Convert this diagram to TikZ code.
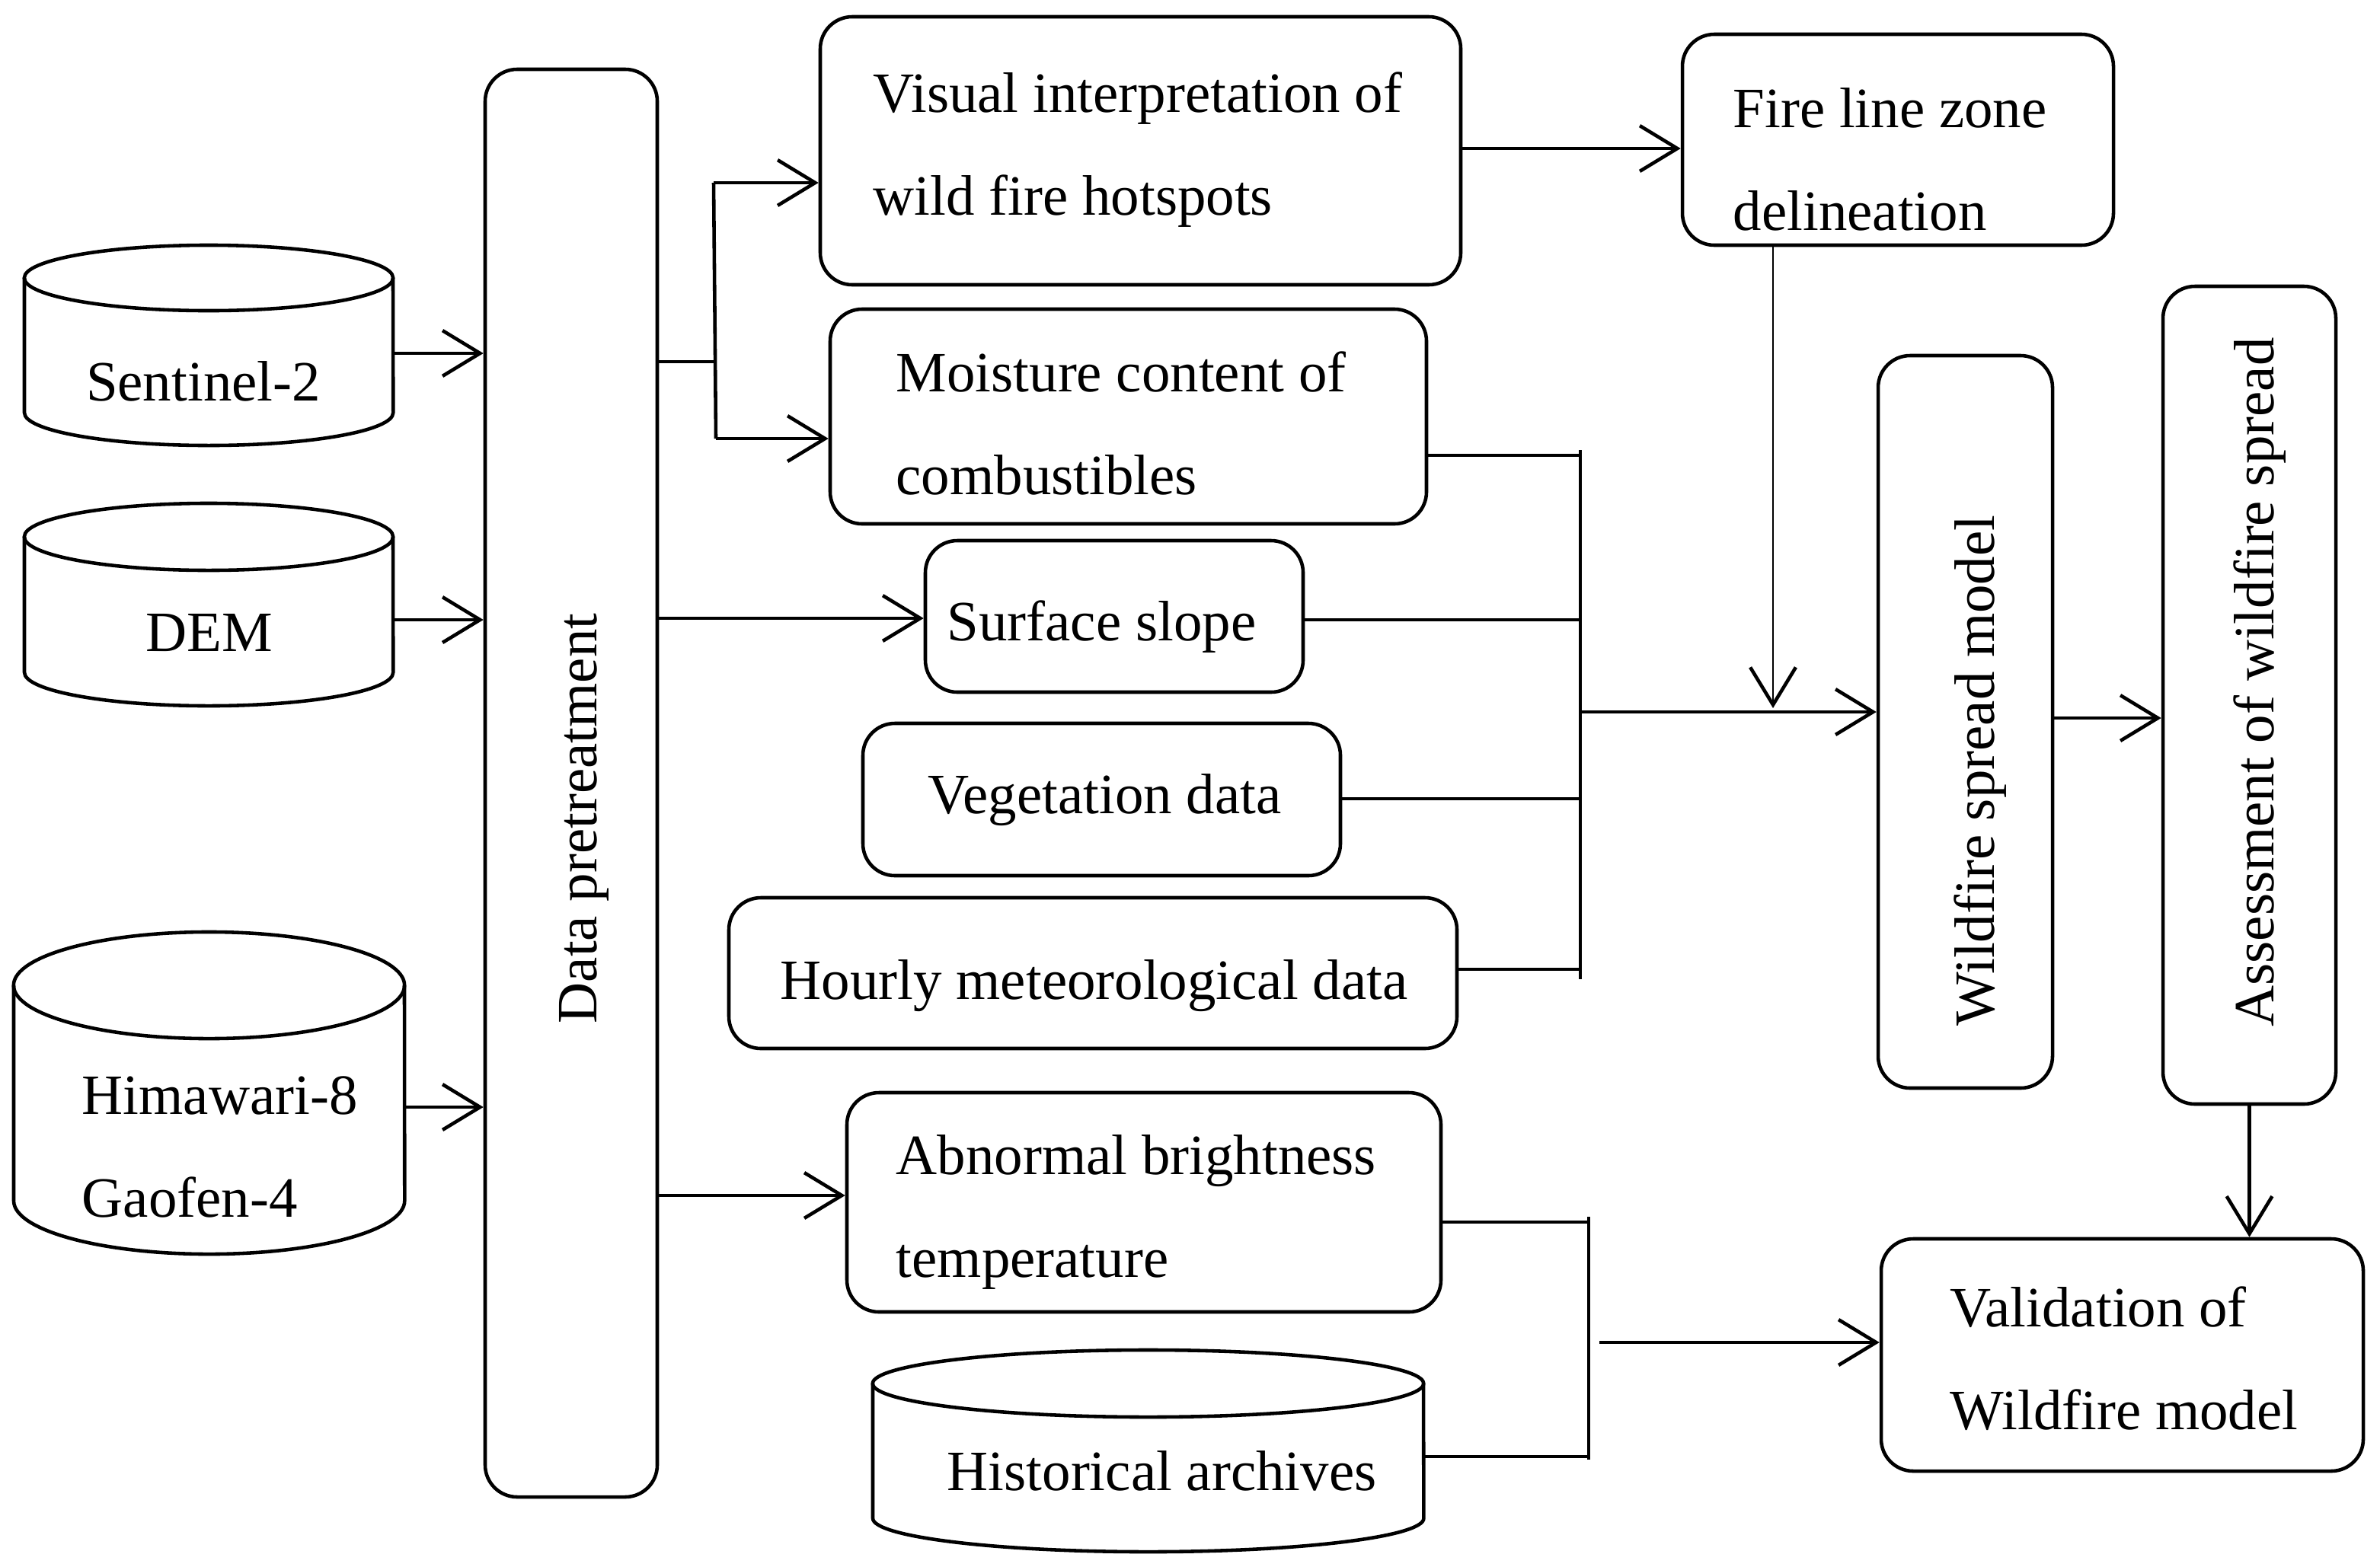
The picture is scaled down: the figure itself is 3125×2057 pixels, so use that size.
\documentclass[tikz,border=0pt]{standalone}
\usepackage{fontspec}
\setmainfont{Liberation Serif}
\usetikzlibrary{arrows.meta,fit}
\begin{document}
\begin{tikzpicture}[x=0.01cm,y=-0.01cm,
  ln/.style={line width=1.3pt},
  box/.style={draw, line width=1.3pt, rounded corners=0.42cm, inner sep=0pt},
  area/.style={inner sep=0pt},
  txt/.style={inner sep=0pt, align=left, font=\fontsize{21.3pt}{38.4pt}\selectfont},
  arr/.style={line width=1.3pt, -{Straight Barb[length=14pt,width=17pt]}},
  thinarr/.style={line width=0.6pt, -{Straight Barb[length=14pt,width=17pt,line width=1.3pt]}}]
\fill[white] (0,0) rectangle (3125,2057);
\useasboundingbox (0,0) rectangle (3125,2057);

% ---------- cylinders ----------
% Sentinel-2
\draw[ln] (274,365) ellipse [x radius=2.42cm, y radius=0.43cm];
\draw[ln] (32,365) -- (32,542) arc[start angle=180, end angle=360, x radius=2.42cm, y radius=0.43cm] -- (516,365);
\node[area, fit={(32,322) (516,585)}] (sen) {};
\node[txt] (senT) at (267,501) {Sentinel-2};
% DEM
\draw[ln] (274,705) ellipse [x radius=2.42cm, y radius=0.44cm];
\draw[ln] (32,705) -- (32,883) arc[start angle=180, end angle=360, x radius=2.42cm, y radius=0.44cm] -- (516,705);
\node[area, fit={(32,661) (516,927)}] (dem) {};
\node[txt] (demT) at (275,831) {DEM};
% Himawari / Gaofen
\draw[ln] (274.5,1294) ellipse [x radius=2.565cm, y radius=0.7cm];
\draw[ln] (18,1294) -- (18,1577) arc[start angle=180, end angle=360, x radius=2.565cm, y radius=0.7cm] -- (531,1294);
\node[area, fit={(18,1224) (531,1647)}] (him) {};
\node[txt, anchor=west] (himT) at (107,1506) {Himawari-8\\Gaofen-4};
% Historical archives
\draw[ln] (1507.5,1817) ellipse [x radius=3.615cm, y radius=0.44cm];
\draw[ln] (1146,1817) -- (1146,1994) arc[start angle=180, end angle=360, x radius=3.615cm, y radius=0.44cm] -- (1869,1817);
\node[area, fit={(1146,1773) (1869,2038)}] (hist) {};
\node[txt, anchor=west] (histT) at (1243,1932) {Historical archives};

% ---------- boxes ----------
\node[box, fit={(637,91) (863,1966)}] (pre) {};
\node[txt, rotate=90] (preT) at (767,1075) {Data pretreatment};

\node[box, fit={(1077,22) (1918,374)}] (vis) {};
\node[txt, anchor=west] (visT) at (1146,197) {Visual interpretation of\\wild fire hotspots};

\node[box, fit={(1090,406) (1873,688)}] (moi) {};
\node[txt, anchor=west] (moiT) at (1176,556) {Moisture content of\\combustibles};

\node[box, fit={(1215,710) (1711,909)}] (surf) {};
\node[txt, anchor=west] (surfT) at (1243,823) {Surface slope};

\node[box, fit={(1133,950) (1760,1150)}] (veg) {};
\node[txt, anchor=west] (vegT) at (1218,1051) {Vegetation data};

\node[box, fit={(957,1179) (1913,1377)}] (hour) {};
\node[txt, anchor=west] (hourT) at (1024,1295) {Hourly meteorological data};

\node[box, fit={(1112,1435) (1892,1723)}] (abn) {};
\node[txt, anchor=west] (abnT) at (1176,1592) {Abnormal brightness\\temperature};

\node[box, fit={(2209,45) (2775,322)}] (fire) {};
\node[txt, anchor=west] (fireT) at (2275,209) {Fire line zone\\delineation};

\node[box, fit={(2466,467) (2695,1429)}] (wsm) {};
\node[txt, rotate=90] (wsmT) at (2600,1012) {Wildfire spread model};

\node[box, fit={(2840,376) (3067,1450)}] (ass) {};
\node[txt, rotate=90] (assT) at (2967,896) {Assessment of wildfire spread};

\node[box, fit={(2470,1627) (3103,1932)}] (val) {};
\node[txt, anchor=west] (valT) at (2560,1784) {Validation of\\Wildfire model};

% ---------- connectors ----------
\coordinate (a1) at (600,464);
\coordinate (a2) at (600,814);
\coordinate (a3) at (600,1454);
\draw[arr] (sen.east |- a1) -- (pre.west |- a1);
\draw[arr] (dem.east |- a2) -- (pre.west |- a2);
\draw[arr] (him.east |- a3) -- (pre.west |- a3);

\coordinate (b0) at (938,475);
\coordinate (b1) at (937,240);
\coordinate (b2) at (940,576);
\draw[ln] (pre.east |- b0) -- (b0);
\draw[ln] (b1) -- (b2);
\draw[arr] (b1) -- (vis.west |- b1);
\draw[arr] (b2) -- (moi.west |- b2);

\coordinate (s1) at (1000,812);
\draw[arr] (pre.east |- s1) -- (surf.west |- s1);
\coordinate (ab1) at (1000,1570);
\draw[arr] (pre.east |- ab1) -- (abn.west |- ab1);

\coordinate (f1) at (2000,195);
\draw[arr] (vis.east |- f1) -- (fire.west |- f1);
\coordinate (fd) at (2328,930);
\draw[thinarr] (fire.south -| fd) -- (fd);

% collector 1
\coordinate (c1t) at (2075,591);
\coordinate (c1b) at (2075,1286);
\coordinate (c1a) at (2075,598);
\coordinate (c1s) at (2075,814);
\coordinate (c1v) at (2075,1049);
\coordinate (c1h) at (2075,1273);
\coordinate (c1m) at (2075,935);
\draw[ln] (c1t) -- (c1b);
\draw[ln] (moi.east |- c1a) -- (c1a);
\draw[ln] (surf.east |- c1s) -- (c1s);
\draw[ln] (veg.east |- c1v) -- (c1v);
\draw[ln] (hour.east |- c1h) -- (c1h);
\draw[arr] (c1m) -- (wsm.west |- c1m);

\coordinate (w1) at (2750,943);
\draw[arr] (wsm.east |- w1) -- (ass.west |- w1);
\draw[arr] (ass.south) -- (ass.south |- val.north);

% collector 2
\coordinate (c2t) at (2086,1598);
\coordinate (c2b) at (2086,1917);
\coordinate (c2a) at (2086,1605);
\coordinate (c2h) at (2086,1913);
\coordinate (c2m) at (2100,1763);
\draw[ln] (c2t) -- (c2b);
\draw[ln] (abn.east |- c2a) -- (c2a);
\draw[ln] (hist.east |- c2h) -- (c2h);
\draw[arr] (c2m) -- (val.west |- c2m);
\end{tikzpicture}
\end{document}
